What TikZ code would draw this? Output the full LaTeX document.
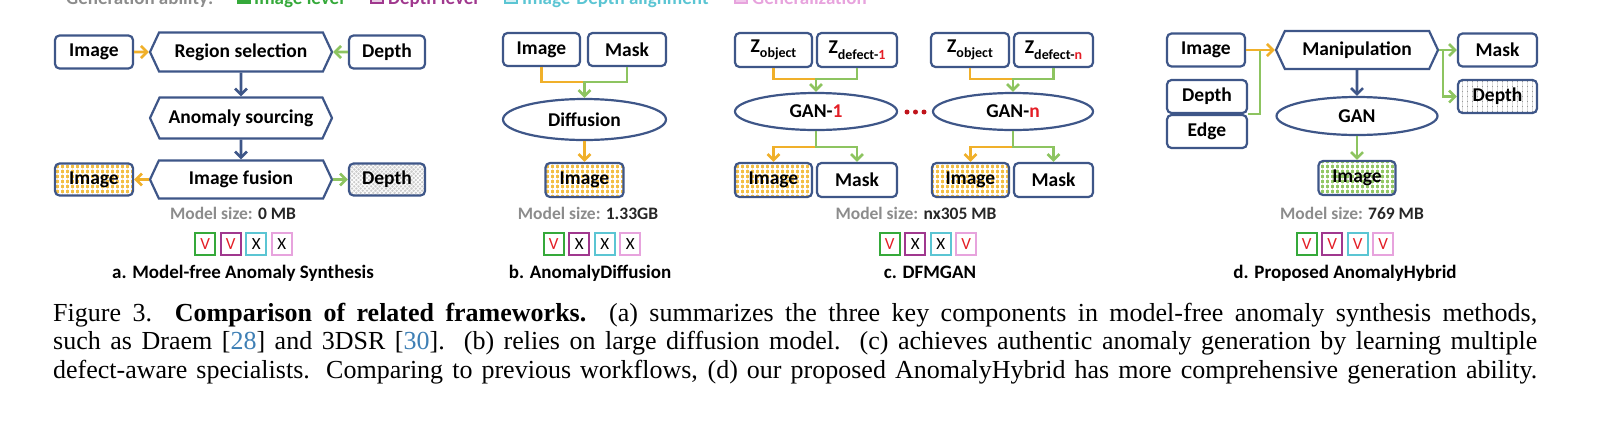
\documentclass[tikz,border=0pt]{standalone}
\usepackage{fontspec}
\setmainfont{Liberation Serif}
\newfontfamily\calfont{Carlito}
\usetikzlibrary{shapes.geometric,shapes.symbols,arrows.meta,patterns.meta,calc}
\definecolor{bx}{HTML}{3E5688}
\definecolor{org}{HTML}{F0B02A}
\definecolor{orgfill}{HTML}{F3BF45}
\definecolor{grn}{HTML}{8DC460}
\definecolor{grnfill}{HTML}{93C765}
\definecolor{gry}{HTML}{8C8C8C}
\definecolor{mdk}{HTML}{262626}
\definecolor{cgreen}{HTML}{35A93A}
\definecolor{cpurple}{HTML}{A0388E}
\definecolor{ccyan}{HTML}{5BC5D3}
\definecolor{cpink}{HTML}{E7A3DD}
\definecolor{vred}{HTML}{E41E26}
\definecolor{citec}{HTML}{3E7FB5}
\definecolor{dotred}{HTML}{C0141B}
\newcommand\ckV{\textcolor{vred}{V}}
\newcommand\ckX{X}
\newcommand\sbs[1]{\raisebox{-0.28em}{\fontsize{14}{14}\selectfont #1}}
\tikzset{
  dfont/.style={font=\calfont\bfseries\fontsize{19.5}{21}\selectfont},
  bbox/.style={dfont, draw=bx, line width=2.2pt, rounded corners=4.5pt, fill=white, inner sep=0pt, minimum height=33pt},
  hexa/.style={dfont, signal, signal to=east and west, signal pointer angle=130, draw=bx, line width=2.2pt, fill=white, inner sep=0pt, minimum height=39pt, minimum width=182pt},
  ell/.style={dfont, ellipse, draw=bx, line width=2.2pt, fill=white, inner sep=0pt},
  tipc/.style={-{Straight Barb[length=6pt,width=12pt]}},
  ol/.style={draw=org, line width=2.6pt},
  gl/.style={draw=grn, line width=2.6pt},
  bl/.style={draw=bx, line width=2.6pt},
  checko/.style={fill=none, preaction={fill=orgfill}, preaction={pattern={Lines[angle=0,distance=5pt,line width=1.5pt]}, pattern color=white}, preaction={pattern={Lines[angle=90,distance=5pt,line width=1.5pt]}, pattern color=white}},
  checkg/.style={fill=none, preaction={fill=grnfill}, preaction={pattern={Lines[angle=0,distance=5pt,line width=1.5pt]}, pattern color=white}, preaction={pattern={Lines[angle=90,distance=5pt,line width=1.5pt]}, pattern color=white}},
  hatchg/.style={fill=none, preaction={fill=black!20}, preaction={pattern={Lines[angle=45,distance=3pt,line width=0.8pt]}, pattern color=white}, preaction={pattern={Lines[angle=-45,distance=3pt,line width=0.8pt]}, pattern color=white}},
  dotg/.style={fill=none, preaction={fill=black!40}, preaction={pattern={Lines[angle=0,distance=5pt,line width=3.2pt]}, pattern color=white}, preaction={pattern={Lines[angle=90,distance=5pt,line width=3.2pt]}, pattern color=white}},
  msize/.style={font=\calfont\bfseries\fontsize{17.5}{18}\selectfont, inner sep=0pt},
  ck/.style={line width=2pt, fill=white, minimum width=20pt, minimum height=22pt, inner sep=0pt, font=\calfont\fontsize{17}{17}\selectfont},
  pcap/.style={font=\calfont\bfseries\fontsize{19}{20}\selectfont, inner sep=0pt, anchor=base},
  lg/.style={font=\calfont\bfseries\fontsize{19}{20}\selectfont, inner sep=0pt, anchor=base west},
  capl/.style={inner sep=0pt, anchor=base west, font=\fontsize{26}{28}\selectfont},
  rdot/.style={circle, fill=dotred, inner sep=0pt, minimum size=5pt},
}
\newcommand\ckrow[7]{%
  \node[ck, draw=cgreen] (#1g) at (#2-38.25,#3) {#4};
  \node[ck, draw=cpurple] (#1p) at (#2-12.75,#3) {#5};
  \node[ck, draw=ccyan] (#1c) at (#2+12.75,#3) {#6};
  \node[ck, draw=cpink] (#1k) at (#2+38.25,#3) {#7};
}
\begin{document}
\begin{tikzpicture}[x=1pt,y=-1pt]
\useasboundingbox (0,0) rectangle (1597,424);
\clip (0,0) rectangle (1597,424);
% legend (cut at top, as in the reference)
\node[lg, text=gry] (lgt) at (66,4) {Generation ability:};
\draw[draw=cgreen, fill=cgreen, line width=1.5pt] (238,-9) rectangle (250,3);
\node[lg, text=cgreen] (lg1) at (254,4) {Image level};
\draw[draw=cpurple, fill=cpurple!25, line width=1.5pt] (371,-9) rectangle (383,3);
\node[lg, text=cpurple] (lg2) at (388,4) {Depth level};
\draw[draw=ccyan, fill=ccyan!25, line width=1.5pt] (505,-9) rectangle (517,3);
\node[lg, text=ccyan] (lg3) at (522,4) {Image-Depth alignment};
\draw[draw=cpink, fill=cpink!60, line width=1.5pt] (735,-9) rectangle (747,3);
\node[lg, text=cpink] (lg4) at (752,4) {Generalization};

% ---------- panel a
\node[bbox, minimum width=78pt] (aImg) at (94,52) {Image};
\node[hexa] (aReg) at (241,52) {Region selection};
\node[bbox, minimum width=76pt] (aDep) at (387,52) {Depth};
\node[hexa, minimum height=41pt] (aAno) at (241,118) {Anomaly sourcing};
\node[hexa, minimum height=38pt] (aFus) at (241,179.5) {Image fusion};
\node[bbox, checko, minimum width=78pt, minimum height=32pt] (aOImg) at (94,179.5) {Image};
\node[bbox, hatchg, minimum width=76pt, minimum height=32pt] (aODep) at (387,179.5) {Depth};
\draw[ol,tipc] (aImg) -- (aReg);
\draw[gl,tipc] (aDep) -- (aReg);
\draw[bl,tipc] (aReg) -- (aAno);
\draw[bl,tipc] (aAno) -- (aFus);
\draw[ol,tipc] (aFus) -- (aOImg);
\draw[gl,tipc] (aFus) -- (aODep);
\node[msize] (aMs) at (233,213) {\textcolor{gry}{Model size:} \textcolor{mdk}{0 MB}};

% ---------- panel b
\node[bbox, minimum width=77pt] (bImg) at (541.5,49.5) {Image};
\node[bbox, minimum width=78pt] (bMsk) at (627,49.5) {Mask};
\node[ell, minimum width=163pt, minimum height=41pt] (bDif) at (584.5,119.5) {Diffusion};
\node[bbox, checko, minimum width=78pt, minimum height=34pt] (bOImg) at (584.5,180) {Image};
\coordinate (bJ) at (584.5,82);
\draw[ol] (bImg.south) |- (bJ);
\draw[gl,tipc] (bMsk.south) |- (bJ) -- (bDif.north);
\draw[ol,tipc] (bDif) -- (bOImg);
\node[msize] (bMs) at (588,213) {\textcolor{gry}{Model size:} \textcolor{mdk}{1.33GB}};

% ---------- panel c
\node[bbox, minimum width=77pt, minimum height=34pt] (cZo1) at (773.5,50) {Z\sbs{object}};
\node[bbox, minimum width=80pt, minimum height=34pt] (cZd1) at (857,50) {Z\sbs{defect-\textcolor{vred}{1}}};
\node[ell, minimum width=162pt, minimum height=37pt] (cG1) at (816,111.5) {GAN-\textcolor{vred}{1}};
\node[bbox, checko, minimum width=77pt, minimum height=34pt] (cOI1) at (773.5,180) {Image};
\node[bbox, minimum width=80pt, minimum height=34pt] (cM1) at (857,180) {Mask};
\node[rdot] (cDt1) at (907,112) {};
\node[rdot] (cDt2) at (915.5,112) {};
\node[rdot] (cDt3) at (924,112) {};
\node[bbox, minimum width=78pt, minimum height=34pt] (cZo2) at (970,50) {Z\sbs{object}};
\node[bbox, minimum width=79pt, minimum height=34pt] (cZd2) at (1053.5,50) {Z\sbs{defect-\textcolor{vred}{n}}};
\node[ell, minimum width=160pt, minimum height=37pt] (cG2) at (1013,111.5) {GAN-\textcolor{vred}{n}};
\node[bbox, checko, minimum width=77pt, minimum height=34pt] (cOI2) at (970.5,180) {Image};
\node[bbox, minimum width=79pt, minimum height=34pt] (cM2) at (1053.5,180) {Mask};
\coordinate (cJ1) at (816,79);
\coordinate (cB1) at (816,147);
\coordinate (cJ2) at (1013,79);
\coordinate (cB2) at (1013,147);
\draw[ol] (cZo1.south) |- (cJ1);
\draw[gl,tipc] (cZd1.south) |- (cJ1) -- (cG1.north);
\draw[ol,tipc] (cB1) -| (cOI1.north);
\draw[gl,tipc] (cG1.south) -- (cB1) -| (cM1.north);
\draw[ol] (cZo2.south) |- (cJ2);
\draw[gl,tipc] (cZd2.south) |- (cJ2) -- (cG2.north);
\draw[ol,tipc] (cB2) -| (cOI2.north);
\draw[gl,tipc] (cG2.south) -- (cB2) -| (cM2.north);
\node[msize] (cMs) at (916,213) {\textcolor{gry}{Model size:} \textcolor{mdk}{nx305 MB}};

% ---------- panel d
\node[bbox, minimum width=78pt] (dImg) at (1206,50) {Image};
\node[hexa, minimum width=162pt, minimum height=38pt] (dMan) at (1357,50) {Manipulation};
\node[bbox, minimum width=80pt] (dDep) at (1207,96.5) {Depth};
\node[bbox, minimum width=80pt] (dEdg) at (1207,131.5) {Edge};
\node[ell, minimum width=161pt, minimum height=38pt] (dGAN) at (1357,116) {GAN};
\node[bbox, checkg, minimum width=77pt, minimum height=34pt] (dOImg) at (1357,178) {Image};
\node[bbox, minimum width=79pt] (dMsk) at (1497.5,50) {Mask};
\node[bbox, dotg, minimum width=79pt] (dODep) at (1497.5,96.5) {Depth};
\coordinate (dK) at (1260,50);
\coordinate (dR) at (1443,50);
\draw[gl] (dDep.south east) -| (dK);
\draw[ol,tipc] (dImg) -- (dMan);
\draw[bl,tipc] (dMan) -- (dGAN);
\draw[gl,tipc] (dGAN) -- (dOImg);
\draw[gl,tipc] (dMan.east) -- (dR) -- (dMsk.west);
\draw[gl,tipc] (dR) |- (dODep.west);
\node[msize] (dMs) at (1352,213) {\textcolor{gry}{Model size:} \textcolor{mdk}{769 MB}};

% ---------- check rows
\ckrow{ka}{243.5}{244}{\ckV}{\ckV}{\ckX}{\ckX}
\ckrow{kb}{592}{244}{\ckV}{\ckX}{\ckX}{\ckX}
\ckrow{kc}{928}{244}{\ckV}{\ckX}{\ckX}{\ckV}
\ckrow{kd}{1345}{244}{\ckV}{\ckV}{\ckV}{\ckV}
\node[pcap] (capa) at (243,278) {a. Model-free Anomaly Synthesis};
\node[pcap] (capb) at (590,278) {b. AnomalyDiffusion};
\node[pcap] (capc) at (930,278) {c. DFMGAN};
\node[pcap] (capd) at (1345,278) {d. Proposed AnomalyHybrid};

% ---------- figure caption
\node[capl] (fc1) at (53,321) {\makebox[1484pt][s]{Figure 3.\ \ \textbf{Comparison of related frameworks.}\ \ (a) summarizes the three key components in model-free anomaly synthesis methods,}};
\node[capl] (fc2) at (53,349.5) {\makebox[1484pt][s]{such as Draem [\textcolor{citec}{28}] and 3DSR [\textcolor{citec}{30}].\ \ (b) relies on large diffusion model.\ \ (c) achieves authentic anomaly generation by learning multiple}};
\node[capl] (fc3) at (53,378) {\makebox[1484pt][s]{defect-aware specialists. Comparing to previous workflows, (d) our proposed AnomalyHybrid has more comprehensive generation ability.}};
\end{tikzpicture}
\end{document}
